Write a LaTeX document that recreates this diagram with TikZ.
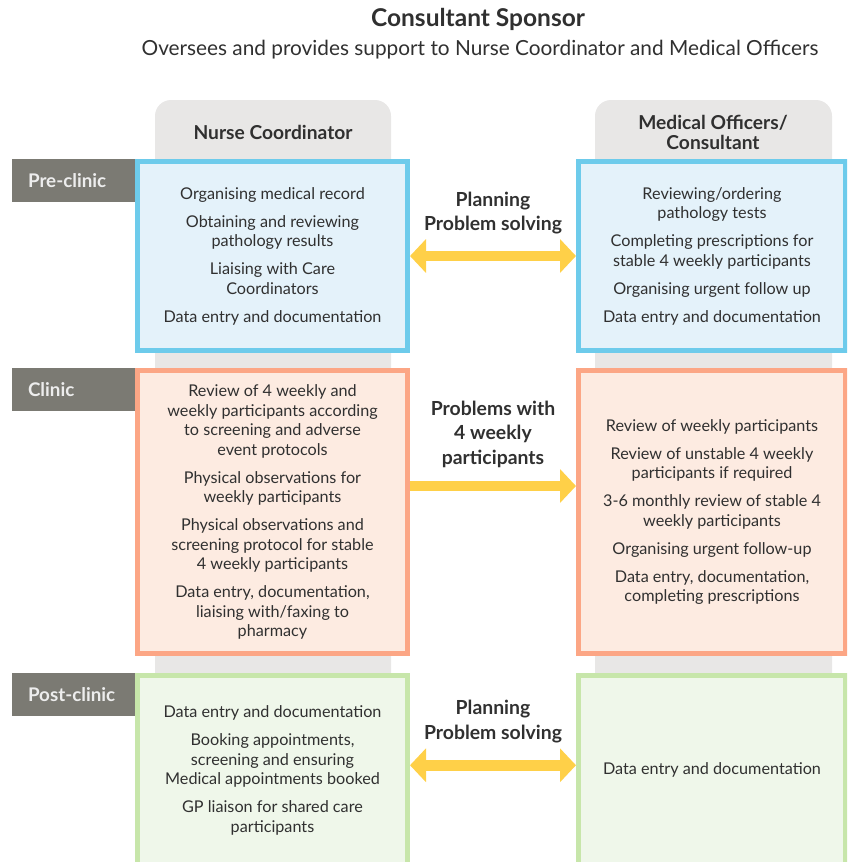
\documentclass[tikz,border=0pt]{standalone}
\usepackage{fontspec}
\setmainfont{Lato}
\usetikzlibrary{positioning,arrows.meta}

\definecolor{txtgray}{HTML}{303030}
\definecolor{colbg}{HTML}{E8E7E6}
\definecolor{phasegray}{HTML}{7B7A73}
\definecolor{preline}{HTML}{6DCBEB}
\definecolor{prefill}{HTML}{E4F2FA}
\definecolor{cliline}{HTML}{FCA685}
\definecolor{clifill}{HTML}{FDEBE1}
\definecolor{postline}{HTML}{C7E6AA}
\definecolor{postfill}{HTML}{EFF7EA}
\definecolor{arrowyellow}{HTML}{FFD048}

\newcommand{\itemgap}{\\[8.5pt]}

\tikzset{
  task/.style={draw=#1line, fill=#1fill, line width=5pt, minimum width=270pt,
    align=center, text=txtgray, inner sep=0pt,
    font=\fontsize{16.2}{19.5}\selectfont},
  phase/.style={fill=phasegray, text=white!93!black, outer sep=0pt,
    font=\bfseries\fontsize{18.8}{20}\selectfont, inner xsep=16pt,
    text width=91pt, align=left, minimum height=43pt, anchor=north east},
  colhead/.style={text=txtgray, align=center,
    font=\bfseries\fontsize{19.2}{20}\selectfont},
  talk/.style={text=txtgray, align=center,
    font=\bfseries\fontsize{19.4}{24.5}\selectfont},
  oneway/.style={draw=arrowyellow, line width=10.5pt, -{Triangle[length=16pt,width=33pt]}},
  twoway/.style={draw=arrowyellow, line width=10.5pt,
    {Triangle[length=16pt,width=33pt]}-{Triangle[length=16pt,width=33pt]}},
}

\begin{document}
\begin{tikzpicture}[x={(1pt,0)}, y={(0,-1pt)}]
  \useasboundingbox (0,0) rectangle (847,862);
  \clip (0,0) rectangle (847,862);

  % title
  \node[text=txtgray, font=\bfseries\fontsize{24.5}{28}\selectfont] (title) at (478,19) {Consultant Sponsor};
  \node[text=txtgray, font=\fontsize{20.8}{24}\selectfont] (subtitle) at (480,50)
    {Oversees and provides support to Nurse Coordinator and Medical Officers};

  % grey columns
  \fill[colbg, rounded corners=16pt] (155,900) |- (391,100) -- (391,900) -- cycle;
  \fill[colbg, rounded corners=16pt] (595,900) |- (832,100) -- (832,900) -- cycle;
  \node[colhead] (nurseHead) at (273,132) {Nurse Coordinator};
  \node[colhead] (medHead) at (713,132) {Medical Officers/\\Consultant};

  % pre-clinic
  \node[task=pre, minimum height=189pt] (preL) at (272.5,256)
    {Organising medical record\itemgap
     Obtaining and reviewing\\pathology results\itemgap
     Liaising with Care\\Coordinators\itemgap
     Data entry and documentation};
  \node[task=pre, minimum height=189pt, minimum width=267pt, right=166pt of preL] (preR)
    {Reviewing/ordering\\pathology tests\itemgap
     Completing prescriptions for\\stable 4 weekly participants\itemgap
     Organising urgent follow up\itemgap
     Data entry and documentation};
  \node[phase] (preTag) at (preL.north west) {Pre-clinic};

  % clinic
  \node[task=cli, minimum height=283pt] (cliL) at (272.5,512)
    {Review of 4 weekly and\\weekly participants according\\to screening and adverse\\event protocols\itemgap
     Physical observations for\\weekly participants\itemgap
     Physical observations and\\screening protocol for stable\\4 weekly participants\itemgap
     Data entry, documentation,\\liaising with/faxing to\\pharmacy};
  \node[task=cli, minimum height=283pt, minimum width=267pt, right=166pt of cliL] (cliR)
    {Review of weekly participants\itemgap
     Review of unstable 4 weekly\\participants if required\itemgap
     3-6 monthly review of stable 4\\weekly participants\itemgap
     Organising urgent follow-up\itemgap
     Data entry, documentation,\\completing prescriptions};
  \node[phase] (cliTag) at (cliL.north west) {Clinic};

  % post-clinic
  \node[task=post, minimum height=189.5pt] (postL) at (272.5,770.25)
    {Data entry and documentation\itemgap
     Booking appointments,\\screening and ensuring\\Medical appointments booked\itemgap
     GP liaison for shared care\\participants};
  \node[task=post, minimum height=189.5pt, minimum width=267pt, right=166pt of postL] (postR)
    {Data entry and documentation};
  \node[phase] (postTag) at (postL.north west) {Post-clinic};

  % links between the columns
  \draw[twoway] (preL.east) -- node[talk, above=13pt] (preTalk) {Planning\\Problem solving} (preR.west);
  \draw[oneway] ([yshift=26pt]cliL.east) -- node[talk, above=10pt] (cliTalk) {Problems with\\4 weekly\\participants} ([yshift=26pt]cliR.west);
  \draw[twoway] ([yshift=5pt]postL.east) -- node[talk, above=14pt] (postTalk) {Planning\\Problem solving} ([yshift=5pt]postR.west);
\end{tikzpicture}
\end{document}
